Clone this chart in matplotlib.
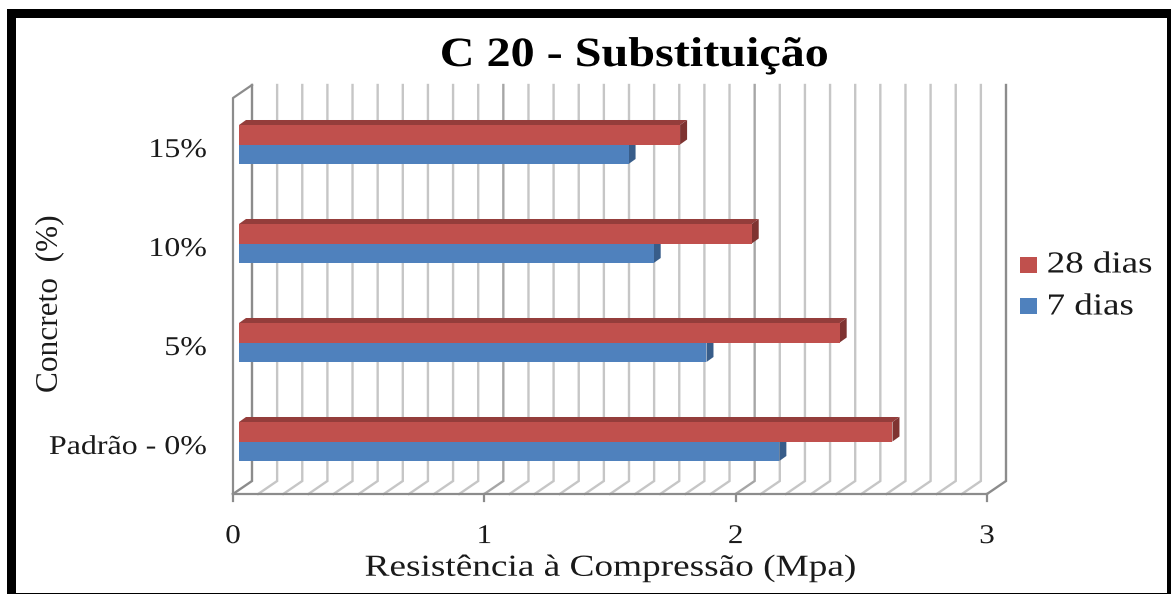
import matplotlib
matplotlib.use("Agg")
import matplotlib.pyplot as plt
from matplotlib.patches import Polygon, Rectangle
from matplotlib.patheffects import AbstractPathEffect
from matplotlib.transforms import Affine2D

categorias = ["Padrão - 0%", "5%", "10%", "15%"]
dias_28 = [2.60, 2.39, 2.04, 1.755]
dias_7 = [2.15, 1.86, 1.65, 1.55]
ticks_x = [0, 1, 2, 3]

W, H = 1171, 594
plt.rcParams["font.family"] = ["Liberation Serif", "DejaVu Serif"]


class Estica(AbstractPathEffect):
    # o original esta esticado na horizontal
    def __init__(self, sx, frac):
        super().__init__()
        self.sx = sx
        self.frac = frac

    def draw_path(self, renderer, gc, tpath, affine, rgbFace=None):
        e = tpath.get_extents()
        a = e.x0 + self.frac * e.width
        t = Affine2D().translate(-a, 0).scale(self.sx, 1).translate(a, 0)
        renderer.draw_path(gc, tpath, t + affine, rgbFace)


fig = plt.figure(figsize=(W / 100, H / 100), dpi=100, facecolor="white")
# moldura preta
fundo = fig.add_axes([0, 0, 1, 1], zorder=0)
fundo.set_xlim(0, W)
fundo.set_ylim(H, 0)
fundo.axis("off")
fundo.add_patch(Rectangle((7, 9), W - 7, H - 9, fc="black", ec="none"))
fundo.add_patch(Rectangle((16, 18), 1151, 574.5, fc="white", ec="none"))

# eixo no plano da frente (233..987, 494..98 em pixels)
ax = fig.add_axes([233 / W, 1 - 494 / H, 754 / W, 396 / H], zorder=1)
ax.set_xlim(0, 3)
ax.set_ylim(0, 4)
ax.axis("off")

# profundidade em unidades de dados
dx = 19 / (754 / 3)
dy = 13 / 99
g1 = "#c6c6c6"
g2 = "#a6a6a6"
g3 = "#8c8c8c"

for i in range(31):
    x = i / 10
    cor = g2 if i % 10 == 0 else g1
    if i == 0 or i == 30:
        cor = g3
    ax.plot([x, x + dx, x + dx], [0, dy, 4 + dy], color=cor, lw=1.7, clip_on=False, zorder=1,
            solid_joinstyle="miter")
ax.plot([0, 3], [0, 0], color=g3, lw=1.6, clip_on=False, zorder=2)
ax.plot([0, 0, dx], [0, 4, 4 + dy], color=g3, lw=1.6, clip_on=False, zorder=2)
for x in ticks_x:
    ax.plot([x, x], [0, -0.07], color=g3, lw=1.6, clip_on=False, zorder=2)


def barra(x, y0, y1, cor, topo, lado, z):
    # frente, topo e lado da barra 3D
    ox, oy = 6 / (754 / 3), 3 / 99
    px, py = 7 / (754 / 3), 5 / 99
    x0 = ox
    x1 = ox + x
    y0 += oy
    y1 += oy
    ax.add_patch(Polygon([(x0, y1), (x0 + px, y1 + py), (x1 + px, y1 + py), (x1, y1)],
                         fc=topo, ec="none", zorder=z, clip_on=False))
    ax.add_patch(Polygon([(x1, y0), (x1 + px, y0 + py), (x1 + px, y1 + py), (x1, y1)],
                         fc=lado, ec="none", zorder=z, clip_on=False))
    ax.add_patch(Rectangle((x0, y0), x, y1 - y0, fc=cor, ec="none", zorder=z + 0.1, clip_on=False))


h = 0.197
for i in range(len(categorias)):
    c = i + 0.5
    barra(dias_7[i], c - h, c, "#4f81bd", "#3f6797", "#385d8a", 3)
    barra(dias_28[i], c, c + h, "#c0504d", "#943d3b", "#7f3331", 4)
    ax.text(-0.105, c - 0.03, categorias[i], ha="right", va="center", fontsize=19.5,
            color="#1a1a1a", clip_on=False, path_effects=[Estica(1.18, 1)])

for x in ticks_x:
    ax.text(x, -0.43, str(x), ha="center", va="center", fontsize=19.5, color="#1a1a1a",
            path_effects=[Estica(1.15, 0.5)])

fig.text(634 / W, 1 - 56 / H, "C 20 - Substituição", ha="center", va="center",
         fontsize=30, fontweight="bold", color="black", zorder=5, path_effects=[Estica(1.155, 0.5)])
fig.text(610 / W, 1 - 568 / H, "Resistência à Compressão (Mpa)", ha="center", va="center",
         fontsize=22, color="#1a1a1a", zorder=5, path_effects=[Estica(1.22, 0.5)])
fig.text(50 / W, 1 - 303 / H, "Concreto  (%)", ha="center", va="center", rotation=90,
         fontsize=22.5, color="#1a1a1a", zorder=5)

# legenda
fundo.add_patch(Rectangle((1020, 257), 17, 16, fc="#c0504d", ec="none"))
fundo.add_patch(Rectangle((1020, 298), 17, 16, fc="#4f81bd", ec="none"))
fig.text(1047 / W, 1 - 265 / H, "28 dias", ha="left", va="center", fontsize=22, color="#1a1a1a", zorder=5,
         path_effects=[Estica(1.21, 0)])
fig.text(1047 / W, 1 - 307 / H, "7 dias", ha="left", va="center", fontsize=22, color="#1a1a1a", zorder=5,
         path_effects=[Estica(1.21, 0)])

fig.savefig("out.png", dpi=100)
